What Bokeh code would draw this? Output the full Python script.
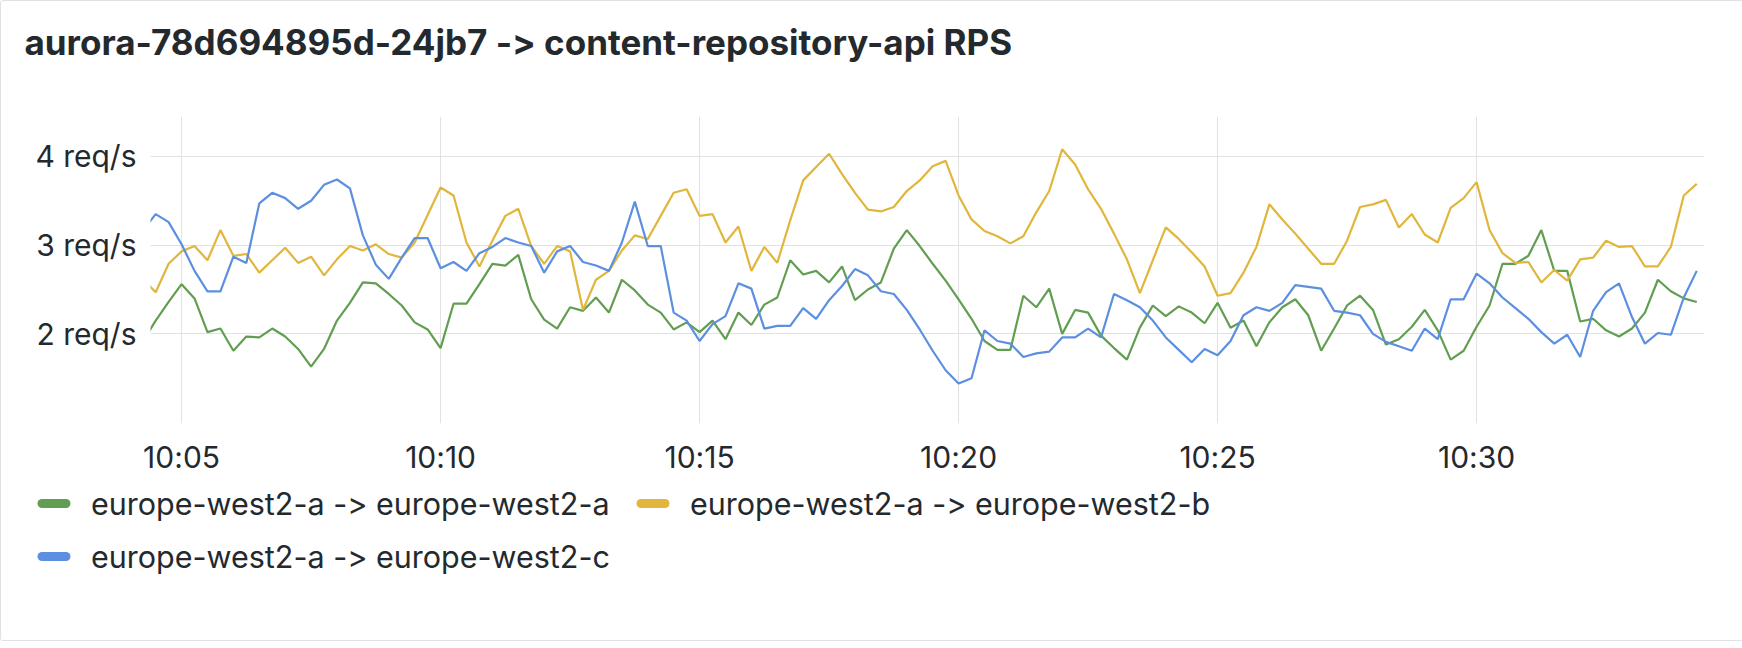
import pandas as pd
from bokeh.plotting import figure
from bokeh.layouts import column
from bokeh.models import (Range1d, FixedTicker, PrintfTickFormatter, DatetimeTickFormatter,
                          Label, InlineStyleSheet)
from bokeh.embed import file_html
from bokeh.resources import INLINE

title_text = "aurora-78d694895d-24jb7 -> content-repository-api RPS"
series_names = ["europe-west2-a -> europe-west2-a",
                "europe-west2-a -> europe-west2-b",
                "europe-west2-a -> europe-west2-c"]
day = "2024-01-01 "
first_sample = "10:04:15"
step = "15s"
window = ("10:04:24", "10:34:24")
x_tick_labels = ["10:05", "10:10", "10:15", "10:20", "10:25", "10:30"]
y_ticks = [2, 3, 4]

a_to_a = [1.91,
    2.15, 2.36, 2.56, 2.40, 2.02, 2.06, 1.81, 1.97, 1.96, 2.06,
    1.97, 1.83, 1.63, 1.83, 2.15, 2.35, 2.58, 2.57, 2.45, 2.32,
    2.13, 2.05, 1.84, 2.34, 2.34, 2.56, 2.79, 2.77, 2.89, 2.39,
    2.16, 2.06, 2.30, 2.26, 2.41, 2.24, 2.61, 2.49, 2.33, 2.24,
    2.05, 2.13, 2.02, 2.15, 1.94, 2.24, 2.10, 2.33, 2.41, 2.83,
    2.67, 2.71, 2.58, 2.76, 2.38, 2.50, 2.58, 2.96, 3.17, 2.99,
    2.79, 2.60, 2.39, 2.17, 1.92, 1.82, 1.82, 2.43, 2.30, 2.51,
    2.00, 2.27, 2.24, 1.98, 1.84, 1.71, 2.07, 2.32, 2.20, 2.31,
    2.24, 2.12, 2.35, 2.07, 2.15, 1.86, 2.13, 2.30, 2.39, 2.21,
    1.81, 2.06, 2.32, 2.43, 2.27, 1.88, 1.94, 2.08, 2.27, 2.04,
    1.71, 1.81, 2.08, 2.32, 2.79, 2.79, 2.88, 3.17, 2.71, 2.71,
    2.14, 2.17, 2.04, 1.97, 2.06, 2.24, 2.61, 2.48, 2.40, 2.36]

a_to_b = [2.62,
    2.47, 2.79, 2.93, 2.99, 2.83, 3.17, 2.88, 2.90, 2.69, 2.83,
    2.97, 2.80, 2.87, 2.66, 2.84, 2.99, 2.94, 3.01, 2.90, 2.86,
    3.03, 3.34, 3.65, 3.56, 3.03, 2.76, 3.05, 3.33, 3.41, 2.99,
    2.79, 2.99, 2.93, 2.27, 2.61, 2.71, 2.94, 3.11, 3.07, 3.33,
    3.59, 3.63, 3.33, 3.35, 3.03, 3.21, 2.71, 2.98, 2.80, 3.28,
    3.73, 3.88, 4.03, 3.80, 3.59, 3.40, 3.38, 3.43, 3.61, 3.73,
    3.89, 3.95, 3.56, 3.29, 3.16, 3.10, 3.02, 3.10, 3.37, 3.61,
    4.08, 3.91, 3.63, 3.41, 3.13, 2.84, 2.46, 2.83, 3.20, 3.07,
    2.92, 2.76, 2.43, 2.46, 2.69, 2.98, 3.46, 3.29, 3.13, 2.96,
    2.79, 2.79, 3.05, 3.43, 3.46, 3.51, 3.20, 3.35, 3.12, 3.03,
    3.42, 3.53, 3.71, 3.17, 2.91, 2.80, 2.81, 2.58, 2.72, 2.60,
    2.84, 2.86, 3.05, 2.98, 2.99, 2.76, 2.76, 2.98, 3.56, 3.69]

a_to_c = [3.16,
    3.35, 3.26, 3.01, 2.71, 2.48, 2.48, 2.87, 2.80, 3.47, 3.59,
    3.53, 3.41, 3.50, 3.68, 3.74, 3.64, 3.11, 2.78, 2.62, 2.86,
    3.08, 3.08, 2.74, 2.81, 2.71, 2.91, 2.98, 3.08, 3.03, 2.99,
    2.69, 2.93, 2.99, 2.81, 2.77, 2.71, 3.03, 3.49, 2.99, 2.99,
    2.24, 2.15, 1.92, 2.11, 2.20, 2.57, 2.51, 2.06, 2.09, 2.09,
    2.29, 2.17, 2.38, 2.54, 2.73, 2.66, 2.48, 2.45, 2.27, 2.05,
    1.81, 1.59, 1.44, 1.50, 2.04, 1.92, 1.89, 1.74, 1.78, 1.80,
    1.96, 1.96, 2.06, 1.96, 2.45, 2.38, 2.30, 2.15, 1.96, 1.82,
    1.68, 1.83, 1.76, 1.92, 2.21, 2.30, 2.26, 2.35, 2.55, 2.53,
    2.51, 2.26, 2.24, 2.21, 2.00, 1.91, 1.86, 1.81, 2.06, 1.94,
    2.39, 2.39, 2.68, 2.57, 2.41, 2.29, 2.17, 2.02, 1.89, 1.99,
    1.74, 2.26, 2.47, 2.57, 2.19, 1.89, 2.01, 1.99, 2.41, 2.71]

colors = ["#629E51", "#E0B63C", "#5C8FE0"]
series = [a_to_a, a_to_b, a_to_c]

times = pd.date_range(day + first_sample, periods=len(a_to_a), freq=step)
tick_ms = [int(pd.Timestamp(day + t).value // 10**6) for t in x_tick_labels]

TEXT = "#24292e"
FONT = "Inter"
NO_CALT = "* { font-feature-settings: 'calt' 0, 'liga' 0 !important; font-variant-ligatures: none !important; }"
HOST_STYLE = {"font-feature-settings": "'calt' 0, 'liga' 0", "font-variant-ligatures": "none"}

W = 1742
HEAD_H, MAIN_H, FOOT_H = 115, 367, 157


def free_frame(f):
    if "frame_align" in f.properties():
        f.frame_align = False


def blank_fig(h):
    f = figure(width=W, height=h, output_backend="svg", toolbar_location=None,
               x_axis_location=None, y_axis_location=None, min_border=0,
               x_range=Range1d(0, W), y_range=Range1d(h, 0))
    f.outline_line_color = None
    f.grid.visible = False
    f.background_fill_color = "white"
    f.border_fill_color = "white"
    f.styles = HOST_STYLE
    f.stylesheets = [InlineStyleSheet(css=NO_CALT)]
    free_frame(f)
    return f


# ---- title strip -------------------------------------------------------------
head = blank_fig(HEAD_H)
head.add_layout(Label(x=23, y=40, text=title_text,
                      text_font=FONT, text_font_size="35px", text_font_style="bold",
                      text_color=TEXT, text_baseline="middle", text_align="left"))

# ---- main chart --------------------------------------------------------------
p = figure(width=W, height=MAIN_H, x_axis_type="datetime", output_backend="svg",
           toolbar_location=None,
           x_range=Range1d(pd.Timestamp(day + window[0]), pd.Timestamp(day + window[1])),
           y_range=Range1d(0.99, 4.45),
           min_border_left=149, min_border_right=39, min_border_top=0, min_border_bottom=60)
p.styles = HOST_STYLE
p.stylesheets = [InlineStyleSheet(css=NO_CALT)]
free_frame(p)
p.outline_line_color = None
p.background_fill_color = "white"
p.border_fill_color = "white"

for vals, c in zip(series, colors):
    p.line(x=times, y=vals, line_color=c, line_width=2.2)

p.xaxis.ticker = FixedTicker(ticks=tick_ms)
p.xaxis.formatter = DatetimeTickFormatter(minutes="%H:%M", hourmin="%H:%M", hours="%H:%M",
                                          minsec="%H:%M", seconds="%H:%M")
p.yaxis.ticker = FixedTicker(ticks=y_ticks)
p.yaxis.formatter = PrintfTickFormatter(format="%d req/s")
p.xgrid.ticker = FixedTicker(ticks=tick_ms)
p.ygrid.ticker = FixedTicker(ticks=y_ticks)
for g in (p.xgrid, p.ygrid):
    g.grid_line_color = "#e2e2e2"
    g.grid_line_width = 1

for ax in (p.xaxis, p.yaxis):
    ax.axis_line_color = None
    ax.major_tick_line_color = None
    ax.minor_tick_line_color = None
    ax.major_tick_in = 0
    ax.major_tick_out = 0
    ax.minor_tick_in = 0
    ax.minor_tick_out = 0
    ax.major_label_text_font = FONT
    ax.major_label_text_font_size = "30px"
    ax.major_label_text_color = TEXT
p.yaxis.major_label_standoff = 14
p.xaxis.major_label_standoff = 15

# ---- legend strip (swatch + label per series) --------------------------------
foot = blank_fig(FOOT_H)
legend_slots = [(40.5, 20), (639.5, 20), (40.5, 73)]   # swatch start / row centre, px
SWATCH_LEN, TEXT_GAP = 24, 25
for name, c, (sx, sy) in zip(series_names, colors, legend_slots):
    foot.segment(x0=[sx], y0=[sy], x1=[sx + SWATCH_LEN], y1=[sy],
                 line_color=c, line_width=9, line_cap="round")
    foot.add_layout(Label(x=sx + SWATCH_LEN + TEXT_GAP, y=sy, text=name,
                          text_font=FONT, text_font_size="30.5px", text_color=TEXT,
                          text_baseline="middle", text_align="left"))

page = column(head, p, foot, spacing=0)
page.styles = {"border": "1px solid #dfe1e4", "border-radius": "3px"}
open("out.html", "w").write(file_html(page, INLINE))
